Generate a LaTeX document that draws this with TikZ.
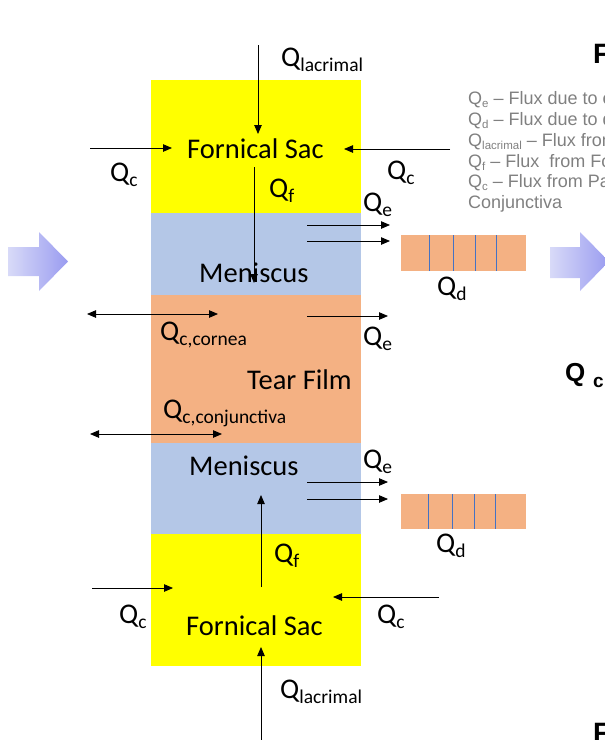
\documentclass[tikz,border=0pt]{standalone}
\usepackage{fontspec}
\setmainfont{Carlito}
\newfontfamily\legendfont[Ligatures=TeX]{Liberation Sans}
\usetikzlibrary{arrows.meta,shadings}

\definecolor{sacyellow}{HTML}{FFFF00}
\definecolor{menblue}{HTML}{B4C7E7}
\definecolor{filmorange}{HTML}{F4B183}
\definecolor{divblue}{HTML}{4472C4}
\definecolor{legendgrey}{HTML}{808080}
\definecolor{arrowlight}{HTML}{D8DAF8}
\definecolor{arrowdark}{HTML}{9A9CF0}

% flux symbol with a lowered subscript
\newcommand\flux[1]{Q\raisebox{-5pt}{\fontsize{19.5}{20}\selectfont #1}}
\newcommand\lflux[1]{Q\raisebox{-3.5pt}{\fontsize{11.5}{12}\selectfont #1}}

\tikzset{
  layer/.style={rectangle, draw=none, inner sep=0pt, minimum width=210pt},
  drain/.style={rectangle, draw=none, fill=filmorange, inner sep=0pt,
    minimum width=125pt},
  flow/.style={draw=black, line width=0.8pt,
    -{Triangle[length=9pt,width=7.5pt]}},
  twoway/.style={draw=black, line width=0.8pt,
    {Triangle[length=9pt,width=7.5pt]}-{Triangle[length=9pt,width=7.5pt]}},
  divider/.style={draw=divblue, line width=0.7pt},
  lbl/.style={anchor=base west, inner sep=0pt,
    font=\fontsize{28.5}{30}\selectfont},
  legendline/.style={anchor=base west, inner sep=0pt, text=legendgrey,
    font=\legendfont\fontsize{18}{20}\selectfont},
  bigarrow/.style={draw=none, left color=arrowlight, right color=arrowdark},
  boldside/.style={anchor=base west, inner sep=0pt, font=\legendfont\bfseries},
}

\begin{document}
\begin{tikzpicture}[x=1pt,y=-1pt]
\useasboundingbox (0,0) rectangle (605,740);
\clip (0,0) rectangle (605,740);

% stacked compartments
\node[layer, fill=sacyellow,  minimum height=133pt] (sacTop) at (256,146.5) {};
\node[layer, fill=menblue,    minimum height=82pt]  (menTop) at (256,254) {};
\node[layer, fill=filmorange, minimum height=148pt] (film)   at (256,369) {};
\node[layer, fill=menblue,    minimum height=91pt]  (menBot) at (256,488.5) {};
\node[layer, fill=sacyellow,  minimum height=132pt] (sacBot) at (256,600) {};

% compartment names
\node[lbl] (tSac)  at (187,158) {Fornical Sac};
\node[lbl] (tMen1) at (199,282) {Meniscus};
\node[lbl] (tFilm) at (247,389) {Tear Film};
\node[lbl] (tMen2) at (189,475) {Meniscus};
\node[lbl] (tSac2) at (186,635) {Fornical Sac};

% drainage ducts
\node[drain, minimum height=36pt] (ductTop) at (463.5,253) {};
\node[drain, minimum height=35pt] (ductBot) at (463.5,511.5) {};
\foreach \x in {429,453,475,496}
  \draw[divider] (\x,235) -- (\x,271);
\foreach \x in {428,452,474,495}
  \draw[divider] (\x,494) -- (\x,529);

% large process arrows
\path[bigarrow] (8,247) -- (39,247) -- (39,232) -- (68,261.5) -- (39,291)
  -- (39,276) -- (8,276) -- cycle;
\path[bigarrow] (550,247) -- (580,247) -- (580,232) -- (609,261.5) -- (580,291)
  -- (580,278) -- (550,278) -- cycle;

% arrow end points
\coordinate (lacTopS) at (258,45);   \coordinate (lacTopE) at (258,134);
\coordinate (cTLs) at (90,148);      \coordinate (cTLe) at (172,148);
\coordinate (cTRs) at (450,149);     \coordinate (cTRe) at (344,149);
\coordinate (fTs) at (254,167);      \coordinate (fTe) at (254,283);
\coordinate (eT1s) at (307,225);     \coordinate (eT1e) at (390,225);
\coordinate (eT2s) at (307,241);     \coordinate (eT2e) at (390,241);
\coordinate (corA) at (87,314);      \coordinate (corB) at (218,314);
\coordinate (eMs) at (307,316);      \coordinate (eMe) at (388,316);
\coordinate (conA) at (90,434);      \coordinate (conB) at (222,434);
\coordinate (eB1s) at (307,482);     \coordinate (eB1e) at (388,482);
\coordinate (eB2s) at (307,499);     \coordinate (eB2e) at (388,499);
\coordinate (fBs) at (261,587);      \coordinate (fBe) at (261,495);
\coordinate (cBLs) at (92,588);      \coordinate (cBLe) at (173,588);
\coordinate (cBRs) at (439,597);     \coordinate (cBRe) at (333,597);
\coordinate (lacBotS) at (261,742);  \coordinate (lacBotE) at (261,647);

% flux arrows
\draw[flow] (lacTopS) -- (lacTopE);
\draw[flow] (cTLs) -- (cTLe);
\draw[flow] (cTRs) -- (cTRe);
\draw[flow] (fTs) -- (fTe);
\draw[flow] (eT1s) -- (eT1e);
\draw[flow] (eT2s) -- (eT2e);
\draw[twoway] (corA) -- (corB);
\draw[flow] (eMs) -- (eMe);
\draw[twoway] (conA) -- (conB);
\draw[flow] (eB1s) -- (eB1e);
\draw[flow] (eB2s) -- (eB2e);
\draw[flow] (fBs) -- (fBe);
\draw[flow] (cBLs) -- (cBLe);
\draw[flow] (cBRs) -- (cBRe);
\draw[flow] (lacBotS) -- (lacBotE);

% flux labels
\node[lbl] (qLacT) at (281,66)  {\flux{lacrimal}};
\node[lbl] (qCTL)  at (110,181) {\flux{c}};
\node[lbl] (qCTR)  at (387,179) {\flux{c}};
\node[lbl] (qFT)   at (269,197) {\flux{f}};
\node[lbl] (qET)   at (363,211) {\flux{e}};
\node[lbl] (qDT)   at (437,295) {\flux{d}};
\node[lbl] (qCor)  at (160,340) {\flux{c,cornea}};
\node[lbl] (qEM)   at (363,345) {\flux{e}};
\node[lbl] (qCon)  at (163,418) {\flux{c,conjunctiva}};
\node[lbl] (qEB)   at (363,468) {\flux{e}};
\node[lbl] (qDB)   at (436,552) {\flux{d}};
\node[lbl] (qFB)   at (274,562) {\flux{f}};
\node[lbl] (qCBL)  at (119,623) {\flux{c}};
\node[lbl] (qCBR)  at (377,623) {\flux{c}};
\node[lbl] (qLacB) at (280,698) {\flux{lacrimal}};

% legend (runs past the right edge)
\node[legendline] (lg1) at (468,104) {\lflux{e} – Flux due to evaporation};
\node[legendline] (lg2) at (468,125) {\lflux{d} – Flux due to drainage};
\node[legendline] (lg3) at (468,146) {\lflux{lacrimal} – Flux from lacrimal gland};
\node[legendline] (lg4) at (468,167) {\lflux{f} – Flux\ \ from Fornical Sac};
\node[legendline] (lg5) at (468,187) {\lflux{c} – Flux from Palpebral};
\node[legendline] (lg6) at (468,208) {Conjunctiva};

% headings at the right edge
\node[boldside, font=\legendfont\bfseries\fontsize{28}{30}\selectfont] (hTop) at (593,63) {F};
\node[boldside, font=\legendfont\bfseries\fontsize{26}{28}\selectfont] (hQ) at (565,381) {Q};
\node[boldside, font=\legendfont\bfseries\fontsize{19}{20}\selectfont] (hc) at (593,387) {c};
\node[boldside, font=\legendfont\bfseries\fontsize{28}{30}\selectfont] (hBot) at (593,742) {F};
\end{tikzpicture}
\end{document}
